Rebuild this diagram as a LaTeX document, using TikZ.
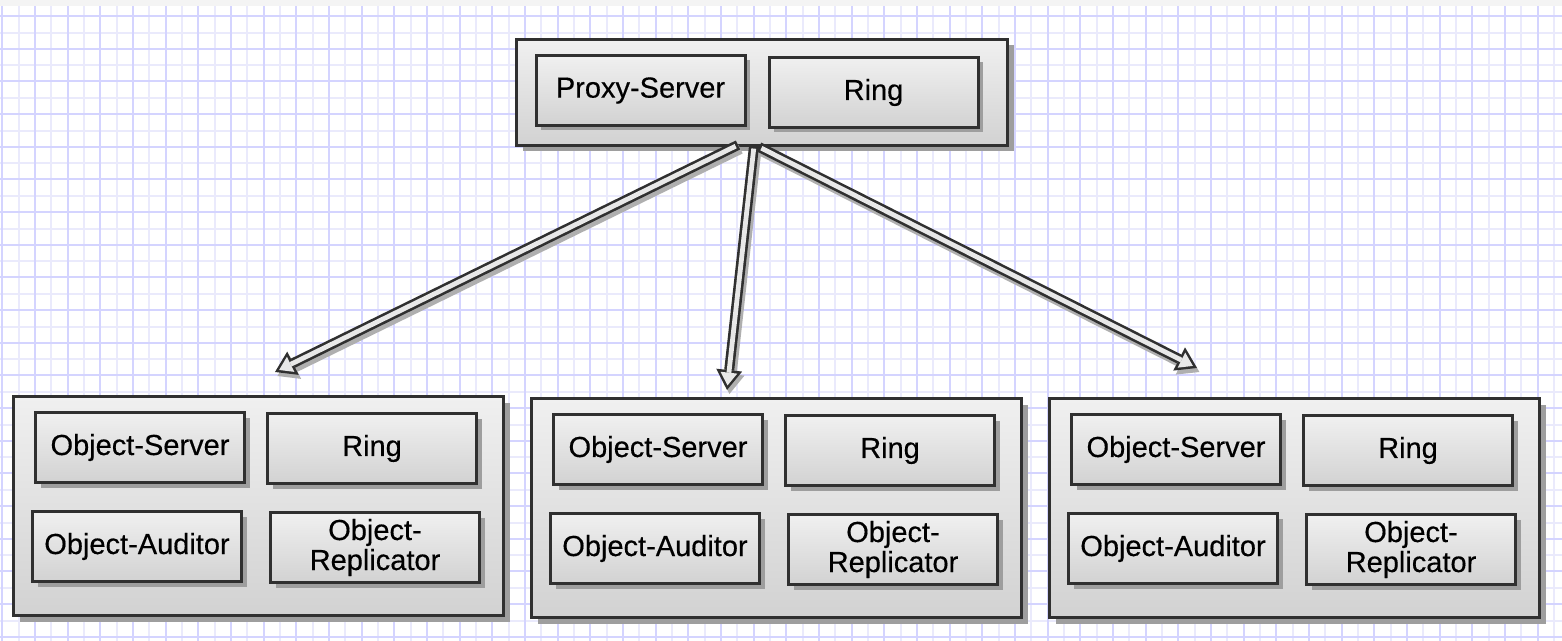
\documentclass[tikz,border=0pt]{standalone}
\usepackage{fontspec}
\setmainfont{Liberation Sans}
\newfontfamily\labelfont[FakeBold=0.4]{Liberation Sans}
\usetikzlibrary{arrows.meta,shadows,calc}

\definecolor{edge}{RGB}{48,48,48}
\definecolor{gridmajor}{RGB}{212,212,255}
\definecolor{gridminor}{RGB}{234,234,252}
\definecolor{shadowgray}{RGB}{158,158,158}
\definecolor{linkgray}{RGB}{175,175,175}
\definecolor{boxtop}{RGB}{240,240,240}
\definecolor{boxbottom}{RGB}{210,210,210}
\definecolor{arrowfill}{RGB}{232,232,232}
\definecolor{topstrip}{RGB}{244,244,244}

\tikzset{
  panel/.style={draw=edge, line width=1.5pt, top color=boxtop, bottom color=boxbottom,
    inner sep=0pt},
  hostbox/.style={panel,
    drop shadow={shadow xshift=3pt, shadow yshift=-3pt, fill=shadowgray, opacity=1}},
  unitbox/.style={panel, minimum width=104.5pt, minimum height=35pt,
    align=center, font=\labelfont\fontsize{14.5pt}{15pt}\selectfont,
    drop shadow={shadow xshift=2.5pt, shadow yshift=-2.5pt, fill=shadowgray, opacity=1}},
  linkshadow/.style={linkgray, line width=5pt,
    transform canvas={shift={(1.2pt,-2pt)}},
    -{Triangle[length=10pt, width=13pt, line width=0pt]}},
  linkedge/.style={edge, line width=5pt,
    -{Triangle[length=10pt, width=13pt, line width=0pt]}},
  linkcore/.style={arrowfill, line width=2.4pt, shorten <=1.3pt, shorten >=2.3pt,
    -{Triangle[length=6.4pt, width=8.4pt, line width=0pt]}},
}

% one storage host: outer panel with its four services
\newcommand\storagehost[3]{%
  \node[hostbox, anchor=north west, minimum width=245pt, minimum height=109.5pt]
    (#1) at (#2,#3) {};
  \node[unitbox] (#1-server)     at ({#2+128},{#3+52.5})  {Object-Server};
  \node[unitbox] (#1-ring)       at ({#2+360},{#3+53.5})  {Ring};
  \node[unitbox] (#1-auditor)    at ({#2+125},{#3+151.5}) {Object-Auditor};
  \node[unitbox] (#1-replicator) at ({#2+363},{#3+152.5}) {Object-\\Replicator};
}

\begin{document}
\begin{tikzpicture}[x=0.5pt, y=-0.5pt]
  \useasboundingbox (0,0) rectangle (1562,641);
  \fill[white] (0,0) rectangle (1562,641);

  % squared paper background
  \begin{scope}
    \clip (0,0) rectangle (1562,641);
    \foreach \i in {0,...,47} {
      \draw[gridminor, line width=1pt] ({18.63+32.667*\i},0) -- ++(0,641);
    }
    \foreach \j in {0,...,19} {
      \draw[gridminor, line width=1pt] (0,{32.67+32.667*\j}) -- ++(1562,0);
    }
    \foreach \i in {0,...,47} {
      \draw[gridmajor, line width=1pt] ({2.3+32.667*\i},0) -- ++(0,641);
    }
    \foreach \j in {0,...,19} {
      \draw[gridmajor, line width=1pt] (0,{16+32.667*\j}) -- ++(1562,0);
    }
  \end{scope}
  \fill[topstrip] (0,0) rectangle (1562,6);

  % proxy host
  \node[hostbox, minimum width=245.5pt, minimum height=53pt] (proxyhost) at (762,92.5) {};
  \node[unitbox] (proxy)     at (640.5,90.5) {Proxy-Server};
  \node[unitbox] (proxyring) at (873.5,92.5) {Ring};

  % storage hosts
  \storagehost{hostA}{12}{395}
  \storagehost{hostB}{530}{397}
  \storagehost{hostC}{1048}{397}

  % links from the proxy to the storage hosts
  \coordinate (tailA) at ($(proxyhost.south)+(-24,-2)$);
  \coordinate (tailB) at ($(proxyhost.south)+(-8,-1)$);
  \coordinate (tailC) at ($(proxyhost.south)+(-3,0)$);
  \coordinate (tipA) at (275,372);
  \coordinate (tipB) at (727,390);
  \coordinate (tipC) at (1197,368);

  \foreach \t/\h in {tailA/tipA, tailB/tipB, tailC/tipC} {
    \draw[linkshadow] (\t) -- (\h);
  }
  \foreach \t/\h in {tailA/tipA, tailB/tipB, tailC/tipC} {
    \draw[linkedge] (\t) -- (\h);
    \draw[linkcore] (\t) -- (\h);
  }
\end{tikzpicture}
\end{document}
